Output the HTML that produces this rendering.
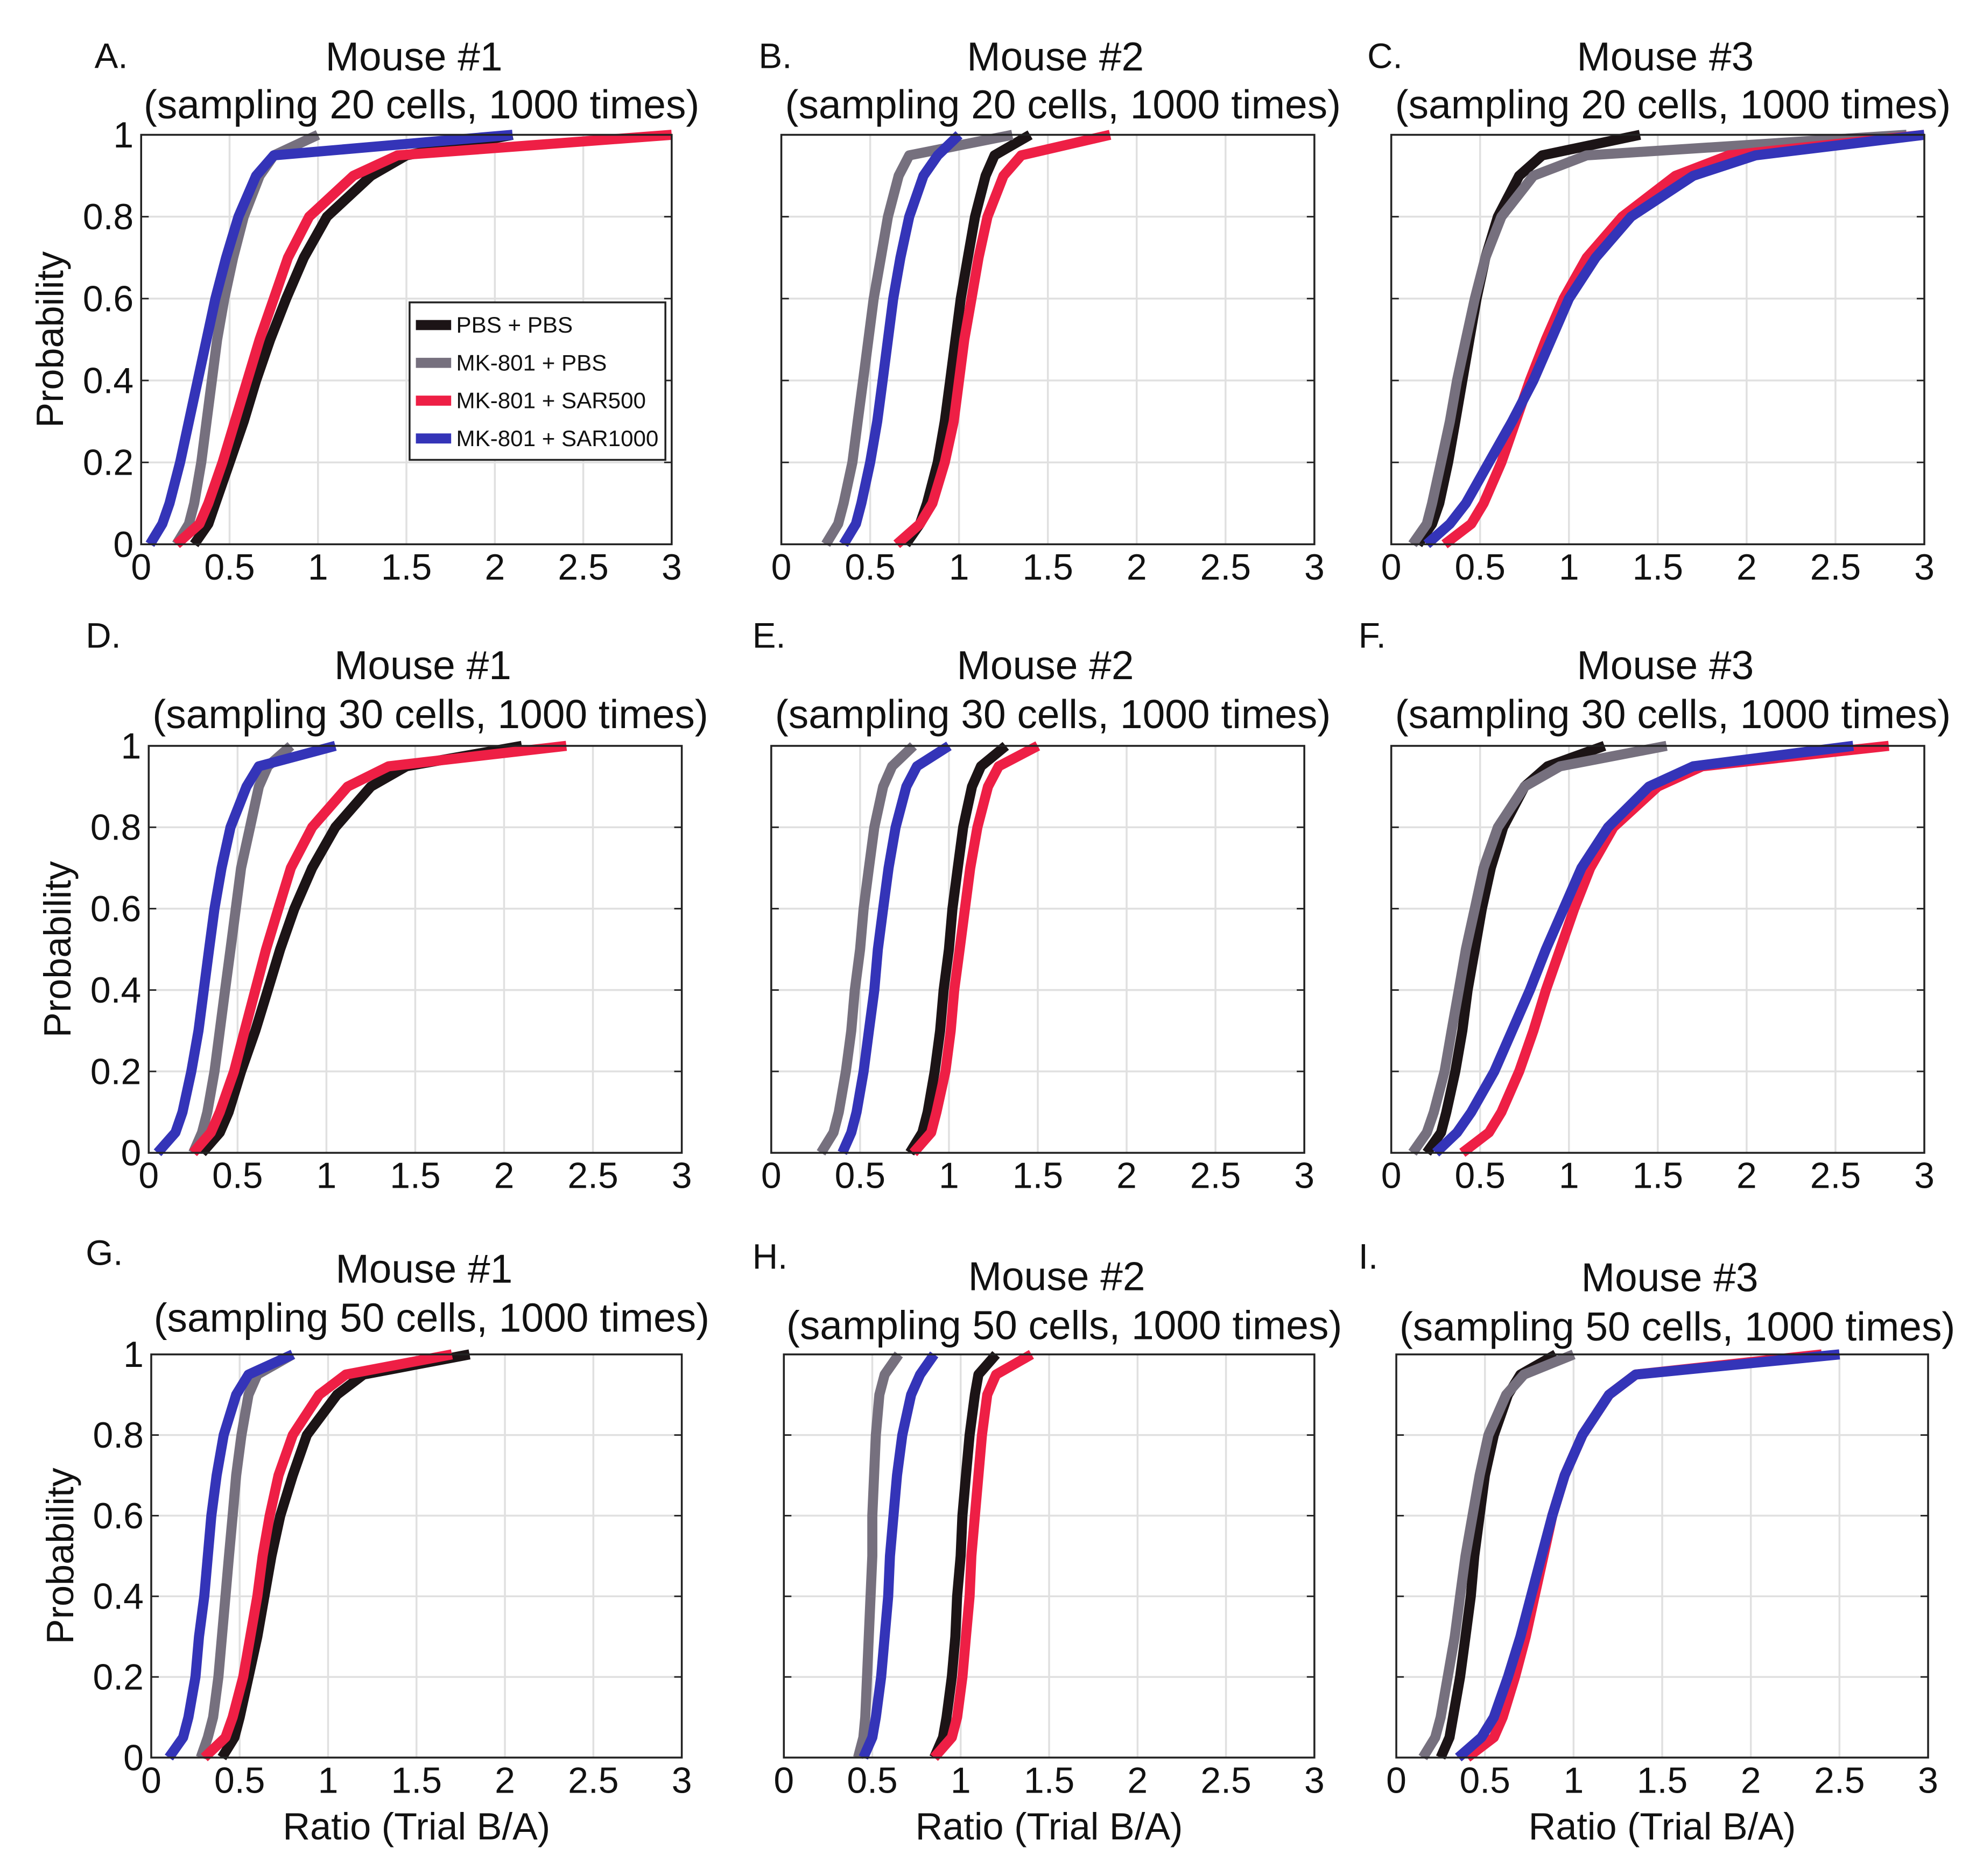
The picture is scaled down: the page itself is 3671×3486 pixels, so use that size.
<!DOCTYPE html>
<html><head><meta charset="utf-8"><style>
html,body{margin:0;padding:0;background:#fff;}
svg{display:block;}
text{font-family:"Liberation Sans",Arial,sans-serif;fill:#111;}
</style></head><body>
<svg id="fig" width="3671" height="3486" viewBox="0 0 1568 1489" xmlns="http://www.w3.org/2000/svg"></svg>
<script>
const probs=[0,0.05,0.1,0.2,0.3,0.4,0.5,0.6,0.7,0.8,0.9,0.95,1];
const xTicks=[0,0.5,1,1.5,2,2.5,3];
const xTickLabels=["0","0.5","1","1.5","2","2.5","3"];
const yTicks=[0,0.2,0.4,0.6,0.8,1];
const yTickLabels=["0","0.2","0.4","0.6","0.8","1"];
const seriesNames=["PBS + PBS","MK-801 + PBS","MK-801 + SAR500","MK-801 + SAR1000"];
const seriesColors=["#1c1416","#76707e","#ee1f45","#3434b8"];
const A_black=[0.3,0.38,0.42,0.5,0.58,0.65,0.73,0.82,0.92,1.05,1.3,1.5,2.1];
const A_gray=[0.2,0.27,0.3,0.34,0.37,0.4,0.43,0.47,0.52,0.58,0.67,0.75,1.0];
const A_red=[0.2,0.33,0.38,0.46,0.53,0.6,0.67,0.75,0.83,0.95,1.2,1.45,3.0];
const A_blue=[0.05,0.12,0.16,0.22,0.27,0.32,0.37,0.42,0.48,0.55,0.65,0.75,2.1];
const B_black=[0.7,0.78,0.82,0.88,0.92,0.95,0.98,1.01,1.05,1.09,1.15,1.2,1.4];
const B_gray=[0.25,0.32,0.35,0.4,0.43,0.46,0.49,0.52,0.56,0.6,0.66,0.72,1.3];
const B_red=[0.65,0.78,0.85,0.92,0.97,1.0,1.03,1.07,1.11,1.16,1.25,1.35,1.85];
const B_blue=[0.35,0.42,0.45,0.5,0.54,0.57,0.6,0.63,0.67,0.72,0.8,0.88,1.0];
const C_black=[0.15,0.23,0.27,0.32,0.36,0.4,0.44,0.48,0.53,0.6,0.72,0.85,1.4];
const C_gray=[0.12,0.2,0.23,0.28,0.33,0.37,0.42,0.47,0.53,0.62,0.8,1.1,2.9];
const C_red=[0.3,0.45,0.52,0.62,0.7,0.78,0.87,0.97,1.1,1.3,1.6,1.9,3.0];
const C_blue=[0.2,0.33,0.42,0.55,0.68,0.8,0.9,1.0,1.15,1.35,1.7,2.05,3.0];
const D_black=[0.3,0.4,0.45,0.52,0.6,0.67,0.74,0.82,0.92,1.05,1.25,1.45,2.1];
const D_gray=[0.25,0.3,0.33,0.37,0.4,0.43,0.46,0.49,0.52,0.57,0.62,0.67,0.8];
const D_red=[0.25,0.35,0.4,0.48,0.54,0.6,0.66,0.73,0.8,0.92,1.12,1.35,2.35];
const D_blue=[0.05,0.15,0.19,0.24,0.28,0.31,0.34,0.37,0.41,0.46,0.55,0.62,1.05];
const E_black=[0.78,0.85,0.88,0.92,0.95,0.97,1.0,1.02,1.05,1.08,1.13,1.18,1.32];
const E_gray=[0.28,0.35,0.38,0.42,0.45,0.47,0.5,0.52,0.55,0.58,0.63,0.68,0.8];
const E_red=[0.8,0.9,0.93,0.98,1.01,1.03,1.06,1.09,1.12,1.16,1.22,1.28,1.5];
const E_blue=[0.4,0.45,0.48,0.52,0.55,0.58,0.6,0.63,0.66,0.7,0.76,0.82,1.0];
const F_black=[0.2,0.28,0.31,0.36,0.4,0.43,0.47,0.51,0.56,0.63,0.75,0.88,1.2];
const F_gray=[0.12,0.2,0.24,0.3,0.34,0.38,0.42,0.47,0.52,0.6,0.75,0.95,1.55];
const F_red=[0.4,0.55,0.62,0.72,0.8,0.87,0.95,1.03,1.12,1.25,1.5,1.75,2.8];
const F_blue=[0.25,0.37,0.45,0.58,0.68,0.78,0.87,0.97,1.07,1.22,1.45,1.7,2.6];
const G_black=[0.4,0.47,0.5,0.55,0.6,0.64,0.68,0.73,0.8,0.88,1.05,1.2,1.8];
const G_gray=[0.28,0.32,0.35,0.38,0.4,0.42,0.44,0.46,0.48,0.51,0.55,0.6,0.8];
const G_red=[0.3,0.42,0.46,0.52,0.56,0.6,0.63,0.67,0.72,0.8,0.95,1.1,1.7];
const G_blue=[0.1,0.18,0.21,0.25,0.27,0.3,0.32,0.34,0.37,0.41,0.48,0.55,0.8];
const H_black=[0.85,0.9,0.92,0.95,0.97,0.98,1.0,1.01,1.03,1.05,1.08,1.1,1.2];
const H_gray=[0.42,0.45,0.46,0.47,0.48,0.49,0.5,0.5,0.51,0.52,0.54,0.57,0.65];
const H_red=[0.85,0.95,0.98,1.01,1.03,1.05,1.06,1.08,1.1,1.12,1.15,1.2,1.4];
const H_blue=[0.45,0.5,0.52,0.55,0.57,0.59,0.6,0.62,0.64,0.67,0.72,0.77,0.85];
const I_black=[0.25,0.3,0.32,0.36,0.39,0.42,0.44,0.47,0.5,0.55,0.63,0.7,0.9];
const I_gray=[0.15,0.22,0.25,0.29,0.33,0.36,0.39,0.43,0.47,0.52,0.62,0.72,1.0];
const I_red=[0.4,0.55,0.6,0.67,0.73,0.78,0.83,0.88,0.95,1.05,1.2,1.35,2.4];
const I_blue=[0.35,0.48,0.55,0.63,0.7,0.76,0.82,0.88,0.95,1.05,1.2,1.35,2.5];
const panelLetters=["A.","B.","C.","D.","E.","F.","G.","H.","I."];
const panelMice=["Mouse #1","Mouse #2","Mouse #3","Mouse #1","Mouse #2","Mouse #3","Mouse #1","Mouse #2","Mouse #3"];
const panelCells=[20,20,20,30,30,30,50,50,50];
const panelSeries=[[A_black,A_gray,A_red,A_blue],[B_black,B_gray,B_red,B_blue],[C_black,C_gray,C_red,C_blue],
[D_black,D_gray,D_red,D_blue],[E_black,E_gray,E_red,E_blue],[F_black,F_gray,F_red,F_blue],
[G_black,G_gray,G_red,G_blue],[H_black,H_gray,H_red,H_blue],[I_black,I_gray,I_red,I_blue]];
const boxes=[[112,107,533,432],[620,107,1043,432],[1104,107,1527,432],
[118,592,541,915],[612,592,1035,915],[1104,592,1527,915],
[120,1075,541,1395],[622,1075,1043,1395],[1108,1075,1530,1395]];
const titleY=[[45,83],[45,83],[45,83],[528,567],[528,567],[528,567],[1007,1046],[1013,1052],[1014,1053]];
const letterPos=[[75,45],[602,45],[1085,45],[68,505],[597,505],[1078,505],[68,995],[597,998],[1078,998]];
const NS="http://www.w3.org/2000/svg";
const svg=document.getElementById('fig');
function mk(tag,attrs,parent){const e=document.createElementNS(NS,tag);for(const k in attrs)e.setAttribute(k,attrs[k]);(parent||svg).appendChild(e);return e;}
boxes.forEach((b,i)=>{
  const [L,T,R,B]=b;
  const g=mk('g',{});
  
  
  const xs=v=>L+(R-L)*v/3;
  const ys=v=>B-(B-T)*v;
  mk('rect',{x:L,y:T,width:R-L,height:B-T,fill:'#fff'},g);
  xTicks.forEach((t,k)=>{
    if(t>0&&t<3){const l=mk('line',{x1:xs(t),x2:xs(t),y1:T,y2:B,stroke:'#e0e0e0','stroke-width':1.5},g);
      }
    const tx=mk('text',{x:xs(t),y:B+28,'text-anchor':'middle','font-size':29},g);
    tx.textContent=xTickLabels[k];
    
  });
  yTicks.forEach((t,k)=>{
    if(t>0&&t<1){const l=mk('line',{x1:L,x2:R,y1:ys(t),y2:ys(t),stroke:'#e0e0e0','stroke-width':1.5},g);
      
      mk('line',{x1:L,x2:L+6,y1:ys(t),y2:ys(t),stroke:'#222','stroke-width':1.2},g);
      mk('line',{x1:R-6,x2:R,y1:ys(t),y2:ys(t),stroke:'#222','stroke-width':1.2},g);}
    if(i%3===0){const tx=mk('text',{x:L-6,y:ys(t)+10,'text-anchor':'end','font-size':29},g);
      tx.textContent=yTickLabels[k];
      }
  });
  panelSeries[i].forEach((arr,s)=>{
    const pts=arr.map((x,k)=>xs(x).toFixed(1)+','+ys(probs[k]).toFixed(1)).join(' ');
    const p=mk('polyline',{points:pts,fill:'none',stroke:seriesColors[s],'stroke-width':8,'stroke-linejoin':'round'},g);
    
    
  });
  const fr=mk('rect',{x:L,y:T,width:R-L,height:B-T,fill:'none',stroke:'#222','stroke-width':1.5},g);
  
  const lt=mk('text',{x:letterPos[i][0],y:letterPos[i][1]+9,'font-size':28},g);
  lt.textContent=panelLetters[i];
  
  const cx=(L+R)/2;
  const t1=mk('text',{x:cx+6,y:titleY[i][0]+11,'text-anchor':'middle','font-size':32},g);
  t1.textContent=panelMice[i];
  
  const t2=mk('text',{x:cx+12,y:titleY[i][1]+11,'text-anchor':'middle','font-size':32},g);
  t2.textContent='(sampling '+panelCells[i]+' cells, 1000 times)';
  
  if(i%3===0){
    const yl=mk('text',{x:0,y:0,'text-anchor':'middle','font-size':30,transform:'translate('+(L-62)+','+((T+B)/2)+') rotate(-90)'},g);
    yl.textContent='Probability';
    
  }
  if(i>=6){
    const xl=mk('text',{x:cx,y:B+65,'text-anchor':'middle','font-size':30},g);
    xl.textContent='Ratio (Trial B/A)';
    
  }
});
const lg=mk('g',{});


mk('rect',{x:325,y:240,width:203,height:125,fill:'#fff',stroke:'#222','stroke-width':1.5},lg);
seriesNames.forEach((n,s)=>{
  const y=258+s*30;
  const ln=mk('line',{x1:330,x2:358,y1:y,y2:y,stroke:seriesColors[s],'stroke-width':8},lg);
  
  const t=mk('text',{x:362,y:y+6,'font-size':18},lg);
  t.textContent=n;
  
});
</script>
</body></html>
